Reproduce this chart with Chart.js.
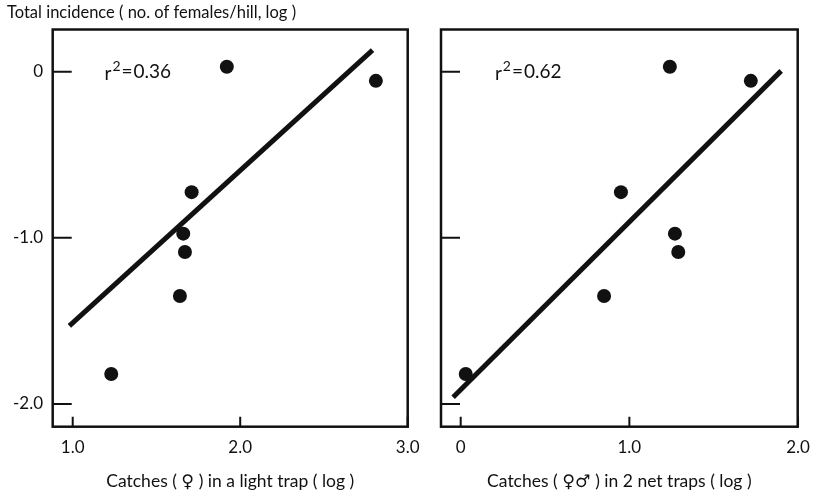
<!DOCTYPE html>
<html>
<head>
<meta charset="utf-8">
<script src="https://cdn.jsdelivr.net/npm/chart.js@4.4.1/dist/chart.umd.min.js"></script>
<style>
  html, body { margin: 0; padding: 0; background: #fff; }
  #wrap { position: relative; width: 813px; height: 496px; }
  #lightChart { position: absolute; left: 0; top: 0; }
  #netChart { position: absolute; left: 430px; top: 0; }
</style>
</head>
<body>
<div id="wrap">
  <canvas id="lightChart" width="430" height="496"></canvas>
  <canvas id="netChart" width="383" height="496"></canvas>
</div>
<script>
// Incidence (same fields for both panels)
const incidence = [0.03, -0.055, -0.725, -0.975, -1.085, -1.35, -1.82];

// Left panel: light trap catches
const lightTrapX = [1.92, 2.81, 1.71, 1.66, 1.67, 1.64, 1.23];
const lightFitX = [0.98, 2.79];
const lightFitY = [-1.53, 0.13];
const lightTicksX = [1.0, 2.0, 3.0];

// Right panel: net trap catches
const netTrapX = [1.24, 1.72, 0.95, 1.27, 1.29, 0.85, 0.03];
const netFitX = [-0.045, 1.90];
const netFitY = [-1.96, 0.005];
const netTicksX = [0, 1.0, 2.0];

const ticksY = [0, -1.0, -2.0];
const FONT = 'Lato, "DejaVu Sans", sans-serif';
const INK = '#111';

const toPoints = (xs, ys) => xs.map((x, i) => ({ x, y: ys[i] }));

// Frame box + inward tick marks + r² note
const framePlugin = {
  id: 'frame',
  afterDraw(chart, args, opts) {
    const { ctx, chartArea: a, scales } = chart;
    ctx.save();
    ctx.strokeStyle = INK;
    ctx.lineWidth = 2.5;
    ctx.strokeRect(a.left, a.top, a.right - a.left, a.bottom - a.top);

    ctx.lineWidth = 2;
    ctx.beginPath();
    scales.x.ticks.forEach(t => {
      const px = scales.x.getPixelForValue(t.value);
      ctx.moveTo(px, a.bottom);
      ctx.lineTo(px, a.bottom - 10);
    });
    scales.y.ticks.forEach(t => {
      const py = scales.y.getPixelForValue(t.value);
      ctx.moveTo(a.left, py);
      ctx.lineTo(a.left + 19, py);
    });
    ctx.stroke();

    // r² label
    let x = scales.x.getPixelForValue(opts.noteX);
    const y = scales.y.getPixelForValue(0);
    ctx.fillStyle = INK;
    ctx.textBaseline = 'middle';
    ctx.textAlign = 'left';
    ctx.font = '19px ' + FONT;
    ctx.fillText('r', x, y + 2);
    x += ctx.measureText('r').width + 1;
    ctx.font = '14px ' + FONT;
    ctx.fillText('2', x, y - 5);
    x += ctx.measureText('2').width + 1;
    ctx.font = '19px ' + FONT;
    ctx.fillText('=', x, y);
    x += ctx.measureText('=').width + 1;
    ctx.fillText(opts.r2, x, y);
    ctx.restore();
  }
};

function makeChart(canvasId, cfg) {
  return new Chart(document.getElementById(canvasId), {
    type: 'scatter',
    data: {
      datasets: [
        {
          data: toPoints(cfg.xs, incidence),
          backgroundColor: INK,
          borderWidth: 0,
          pointRadius: 7,
          pointHoverRadius: 7
        },
        {
          type: 'line',
          data: toPoints(cfg.fitX, cfg.fitY),
          borderColor: INK,
          borderWidth: 5,
          borderCapStyle: 'butt',
          pointRadius: 0,
          fill: false
        }
      ]
    },
    options: {
      responsive: false,
      animation: false,
      layout: { padding: { left: cfg.padLeft, right: cfg.padRight, top: cfg.padTop, bottom: 0 } },
      plugins: {
        legend: { display: false },
        tooltip: { enabled: false },
        title: cfg.title,
        frame: { noteX: cfg.noteX, r2: cfg.r2 }
      },
      scales: {
        x: {
          type: 'linear',
          min: cfg.xMin,
          max: cfg.xMax,
          afterBuildTicks: s => { s.ticks = cfg.ticksX.map(v => ({ value: v })); },
          afterFit: s => { s.height = 69.3; },
          grid: { display: false },
          border: { display: false },
          ticks: {
            padding: 3,
            color: INK,
            font: { family: FONT, size: 17 },
            callback: v => (v === 0 ? '0' : v.toFixed(1))
          },
          title: {
            display: true,
            text: cfg.xTitle,
            color: INK,
            font: { family: FONT, size: 17.5 },
            padding: { top: 0, bottom: 4.5 }
          }
        },
        y: {
          type: 'linear',
          min: -2.137,
          max: 0.254,
          afterBuildTicks: s => { s.ticks = ticksY.map(v => ({ value: v })); },
          afterFit: s => { s.width = cfg.yWidth; },
          grid: { display: false },
          border: { display: false },
          ticks: {
            display: cfg.showYLabels,
            padding: 1.7,
            color: INK,
            font: { family: FONT, size: 17 },
            callback: v => (v === 0 ? '0' : v.toFixed(1))
          }
        }
      }
    },
    plugins: [framePlugin]
  });
}

makeChart('lightChart', {
  xs: lightTrapX,
  fitX: lightFitX,
  fitY: lightFitY,
  ticksX: lightTicksX,
  xMin: 0.8805,
  xMax: 3.0,
  xTitle: 'Catches ( \u2640 ) in a light trap ( log )',
  noteX: 1.19,
  r2: '0.36',
  padLeft: 7,
  padRight: 22.3,
  padTop: 0,
  yWidth: 45.7,
  showYLabels: true,
  title: {
    display: true,
    text: 'Total incidence ( no. of females/hill, log )',
    align: 'start',
    color: INK,
    font: { family: FONT, size: 16.5, weight: 'normal' },
    padding: { top: 3, bottom: 6.7 }
  }
});

makeChart('netChart', {
  xs: netTrapX,
  fitX: netFitX,
  fitY: netFitY,
  ticksX: netTicksX,
  xMin: -0.1168,
  xMax: 1.998,
  xTitle: 'Catches ( \u2640\u2642 ) in 2 net traps ( log )',
  noteX: 0.203,
  r2: '0.62',
  padLeft: 0,
  padRight: 15.3,
  padTop: 29.5,
  yWidth: 11,
  showYLabels: false,
  title: { display: false }
});
</script>
</body>
</html>
